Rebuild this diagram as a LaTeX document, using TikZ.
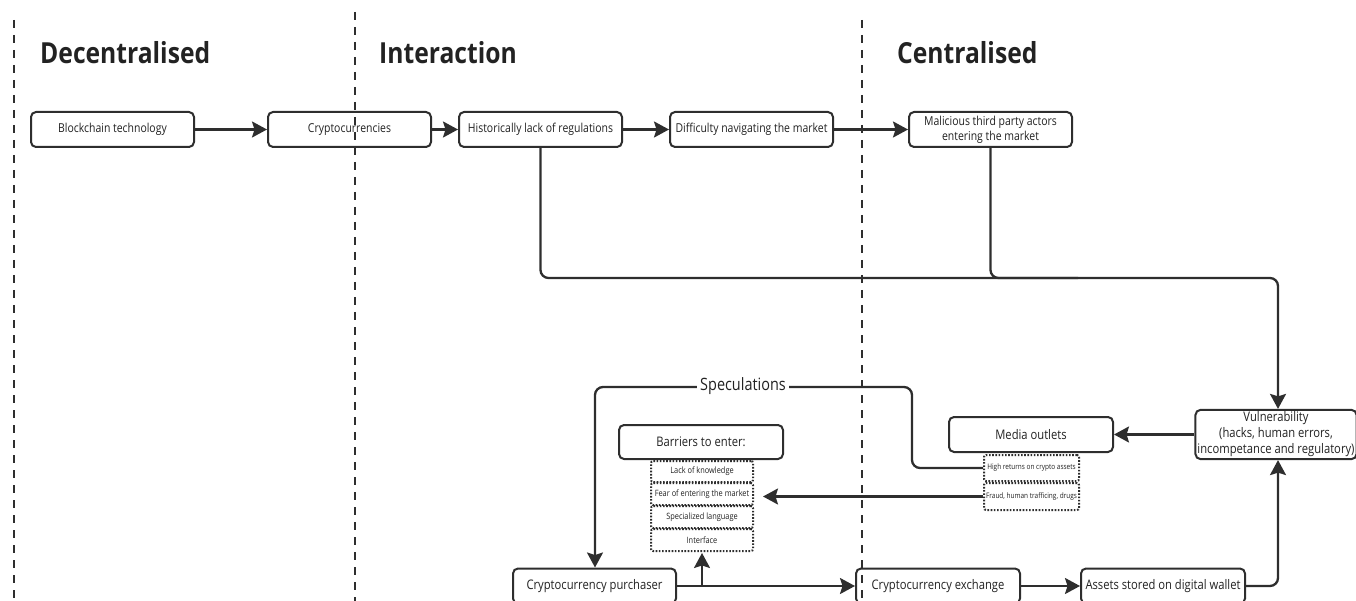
\documentclass[tikz,border=0pt]{standalone}
\usepackage{fontspec}
\setmainfont[FakeStretch=0.85]{Open Sans}
\usetikzlibrary{arrows.meta,calc}
\definecolor{ln}{HTML}{2E2E2E}
\definecolor{tx}{HTML}{222222}
\tikzset{
  box/.style={draw=ln,line width=2pt,rounded corners=5pt,fill=white,minimum width=163pt,minimum height=35pt,align=center,text=tx,inner sep=2pt},
  dbox/.style={draw=ln,line width=2pt,dash pattern=on 1.6pt off 1.6pt,rounded corners=2pt,fill=white,minimum width=102pt,minimum height=21pt,align=center,text=tx,inner sep=1pt,font=\fontsize{8.7}{10}\selectfont},
  conn/.style={draw=ln,line width=2.3pt,-{Stealth[length=15pt,width=16pt,inset=2.5pt]}},
  plain/.style={draw=ln,line width=2.3pt},
  sep/.style={draw=ln,line width=1.5pt,dash pattern=on 8pt off 7pt},
  head/.style={anchor=west,text=tx,font=\fontsize{29}{32}\selectfont\bfseries,inner sep=0pt},
  small/.style={font=\fontsize{12.3}{15}\selectfont},
  mid/.style={font=\fontsize{13.2}{16}\selectfont},
}
\begin{document}
\begin{tikzpicture}[x=1pt,y=-1pt]
\useasboundingbox (0,0) rectangle (1356,601);
% headers
\node[head] (hd) at (40,53) {Decentralised};
\node[head] (hi) at (379,53) {Interaction};
\node[head] (hc) at (897,53) {Centralised};
% top row
\node[box,small] (blk) at (112.5,129.5) {Blockchain technology};
\node[box,small] (cry) at (349.5,129.5) {Cryptocurrencies};
\node[box,small] (his) at (540.5,129.5) {Historically lack of regulations};
\node[box,small] (dif) at (751.5,129.5) {Difficulty navigating the market};
\node[box,small] (mal) at (990.5,129.5) {Malicious third party actors\\entering the market};
% right side
\node[box,mid,minimum width=158pt,minimum height=49pt] (vul) at (1276,434.5) {Vulnerability\\(hacks, human errors,\\incompetance and regulatory)};
\node[box,mid,minimum width=164pt] (med) at (1031,434.5) {Media outlets};
\node[dbox,minimum width=95pt,minimum height=26pt,font=\fontsize{7.6}{9}\selectfont] (hr) at (1031.5,468) {High returns on crypto assets};
\node[dbox,minimum width=95pt,minimum height=27pt,font=\fontsize{7.6}{9}\selectfont] (fr) at (1031.5,496.5) {Fraud, human trafficing, drugs};
% barriers
\node[box,mid,minimum width=164pt,minimum height=34pt] (bar) at (701,442) {Barriers to enter:};
\node[dbox] (lk) at (702,471.5) {Lack of knowledge};
\node[dbox,minimum height=22pt] (fe) at (702,494) {Fear of entering the market};
\node[dbox,minimum height=22pt] (sp) at (702,517) {Specialized language};
\node[dbox,minimum height=22pt] (in) at (702,540) {Interface};
% bottom row
\node[box,mid] (pur) at (594.5,586) {Cryptocurrency purchaser};
\node[box,mid,minimum width=164pt] (exc) at (938,586) {Cryptocurrency exchange};
\node[box,mid,minimum width=164pt] (ass) at (1163,586) {Assets stored on digital wallet};
% connectors
\draw[conn] (blk) -- (cry);
\draw[conn] (cry) -- (his);
\draw[conn] (his) -- (dif);
\draw[conn] (dif) -- (mal);
\coordinate (j1) at (1278,278);
\draw[conn,rounded corners=8pt] (his.south) |- (j1) -- (vul.north -| j1);
\draw[plain,rounded corners=8pt] (mal.south) |- ($(j1)+(-200,0)$);
\draw[conn] (vul.west) -- (med.east);
\coordinate (s1) at (912,387);
\coordinate (s2) at (595,387);
\draw[conn,rounded corners=8pt] (hr.west) -| (s1) -- (s2) -- (pur.north -| s2);
\node[fill=white,text=tx,font=\fontsize{17}{19}\selectfont,inner xsep=3pt,inner ysep=1pt] (spl) at (743,386) {Speculations};
\draw[conn,shorten >=9pt] (fr.west) -- (fr.west -| fe.east);
\draw[conn] (pur.east) -- (exc.west);
\coordinate (br) at (in.south |- pur.east);
\draw[conn,shorten >=1pt] (br) -- (in.south);
\draw[conn] (exc.east) -- (ass.west);
\coordinate (j2) at (1278,586);
\draw[conn,rounded corners=8pt] (ass.east) -- (j2) -- (vul.south -| j2);
% separators
\draw[sep] (14,20) -- (14,601);
\draw[sep] (355,12) -- (355,601);
\draw[sep] (862,20) -- (862,601);
\end{tikzpicture}
\end{document}
